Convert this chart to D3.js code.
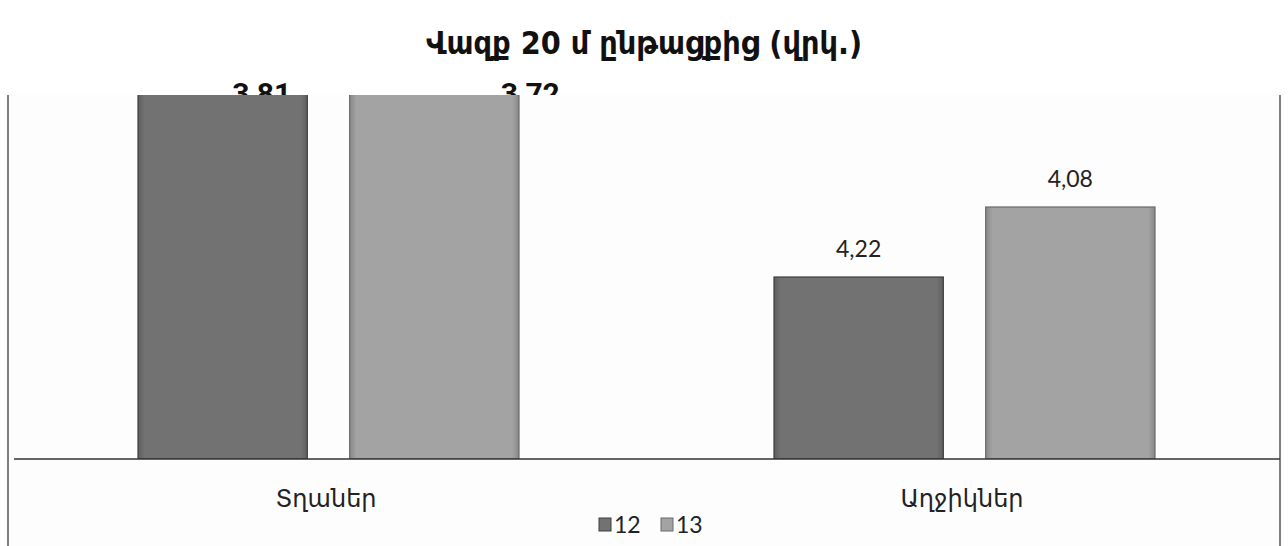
<!DOCTYPE html>
<html>
<head>
<meta charset="utf-8">
<script src="https://cdn.jsdelivr.net/npm/d3@7"></script>
<style>
  html, body { margin: 0; padding: 0; background: #fff; }
  svg { display: block; }
</style>
</head>
<body>
<svg id="chart" width="1288" height="546"></svg>
<script>
// Sprint 20 m (seconds), boys and girls, grades 12 and 13
const categories = ["Տղաներ", "Աղջիկներ"];
const seriesNames = ["12", "13"];
const values12 = [3.81, 4.22];
const values13 = [3.72, 4.08];
const valueLabels12 = ["3,81", "4,22"];
const valueLabels13 = ["3,72", "4,08"];
const title = "Վազք 20 մ ընթացքից (վրկ.)";

const W = 1288, H = 546;
const plot = { left: 8, right: 1280, top: 95, base: 459, bottom: 546 };

const svg = d3.select("#chart");
const bodyFont = "Lato, 'DejaVu Sans', sans-serif";

const rows = [];
categories.forEach((c, i) => {
  rows.push({ cat: c, s: "12", v: values12[i], label: valueLabels12[i] });
  rows.push({ cat: c, s: "13", v: values13[i], label: valueLabels13[i] });
});

// Faster time = taller bar: the value axis runs downward from ~4.58 s
const y = d3.scaleLinear().domain([4.584, 3.584]).range([plot.base, plot.base - 500]);
const x0 = d3.scaleBand().domain(categories).range([plot.left, plot.right]);
const x1 = d3.scaleBand().domain(seriesNames).range([130, 511]).paddingInner(0.2);

const fills = { "12": "#727272", "13": "#a3a3a3" };
const edges = { "12": "#3f3f3f", "13": "#6a6a6a" };

// gradients for the bevelled bar look
const defs = svg.append("defs");
seriesNames.forEach(s => {
  const g = defs.append("linearGradient").attr("id", "grad" + s).attr("x1", 0).attr("x2", 1).attr("y1", 0).attr("y2", 0);
  const base = d3.color(fills[s]);
  g.append("stop").attr("offset", "0%").attr("stop-color", base.darker(0.5));
  g.append("stop").attr("offset", "4%").attr("stop-color", base);
  g.append("stop").attr("offset", "96%").attr("stop-color", base);
  g.append("stop").attr("offset", "100%").attr("stop-color", base.darker(0.5));
});
defs.append("clipPath").attr("id", "plotClip")
  .append("rect").attr("x", plot.left).attr("y", plot.top)
  .attr("width", plot.right - plot.left).attr("height", plot.base - plot.top);

// Title
svg.append("text")
  .attr("x", W / 2).attr("y", 54)
  .attr("text-anchor", "middle")
  .attr("font-family", "'DejaVu Sans Condensed', 'DejaVu Sans', sans-serif")
  .attr("font-weight", "bold")
  .attr("font-size", 32)
  .attr("fill", "#111")
  .text(title);

// Labels of bars that run past the top of the plot sit above it
const clipped = rows.filter(d => y(d.v) < plot.top);
const overflowDx = { "12": 39, "13": 96 };
svg.append("g").selectAll("text").data(clipped).join("text")
  .attr("x", d => x0(d.cat) + x1(d.s) + x1.bandwidth() / 2 + overflowDx[d.s])
  .attr("y", plot.top + 9)
  .attr("text-anchor", "middle")
  .attr("font-family", "Roboto, 'DejaVu Sans', sans-serif")
  .attr("font-weight", "bold")
  .attr("font-size", 30)
  .attr("fill", "#111")
  .text(d => d.label);

// Plot area (covers the lower part of the overflow labels)
svg.append("rect")
  .attr("x", plot.left).attr("y", plot.top)
  .attr("width", plot.right - plot.left).attr("height", plot.bottom - plot.top)
  .attr("fill", "#fdfdfd");

// Frame sides
svg.append("line").attr("x1", plot.left).attr("x2", plot.left).attr("y1", plot.top).attr("y2", H)
  .attr("stroke", "#555").attr("stroke-width", 1.5);
svg.append("line").attr("x1", plot.right).attr("x2", plot.right).attr("y1", plot.top).attr("y2", H)
  .attr("stroke", "#555").attr("stroke-width", 1.5);

// Bars
svg.append("g").attr("clip-path", "url(#plotClip)")
  .selectAll("rect").data(rows).join("rect")
  .attr("x", d => x0(d.cat) + x1(d.s))
  .attr("y", d => y(d.v))
  .attr("width", x1.bandwidth())
  .attr("height", d => plot.base - y(d.v))
  .attr("fill", d => `url(#grad${d.s})`)
  .attr("stroke", d => edges[d.s])
  .attr("stroke-width", 1.2);

// Value labels for bars inside the plot
svg.append("g").selectAll("text").data(rows.filter(d => y(d.v) >= plot.top)).join("text")
  .attr("x", d => x0(d.cat) + x1(d.s) + x1.bandwidth() / 2)
  .attr("y", d => y(d.v) - 20)
  .attr("text-anchor", "middle")
  .attr("font-family", bodyFont)
  .attr("font-size", 23)
  .attr("fill", "#222")
  .text(d => d.label);

// Category axis
const xAxis = svg.append("g").attr("transform", `translate(0,${plot.base})`)
  .call(d3.axisBottom(x0).tickSize(0).tickPadding(31));
xAxis.select(".domain").attr("stroke", "#333").attr("stroke-width", 1.6)
  .attr("d", `M${plot.left + 6},0H${plot.right}`);
xAxis.selectAll("text")
  .attr("font-family", "'DejaVu Sans', sans-serif")
  .attr("font-size", 24)
  .attr("fill", "#222");

// Legend
const legend = svg.append("g").attr("transform", "translate(599,533)");
const legendX = { "12": 0, "13": 62 };
seriesNames.forEach(s => {
  const g = legend.append("g").attr("transform", `translate(${legendX[s]},0)`);
  g.append("rect").attr("x", 0).attr("y", -15).attr("width", 12).attr("height", 13)
    .attr("fill", fills[s]).attr("stroke", edges[s]);
  g.append("text").attr("x", 15).attr("y", 0)
    .attr("font-family", bodyFont).attr("font-size", 23).attr("fill", "#222")
    .text(s);
});
</script>
</body>
</html>
